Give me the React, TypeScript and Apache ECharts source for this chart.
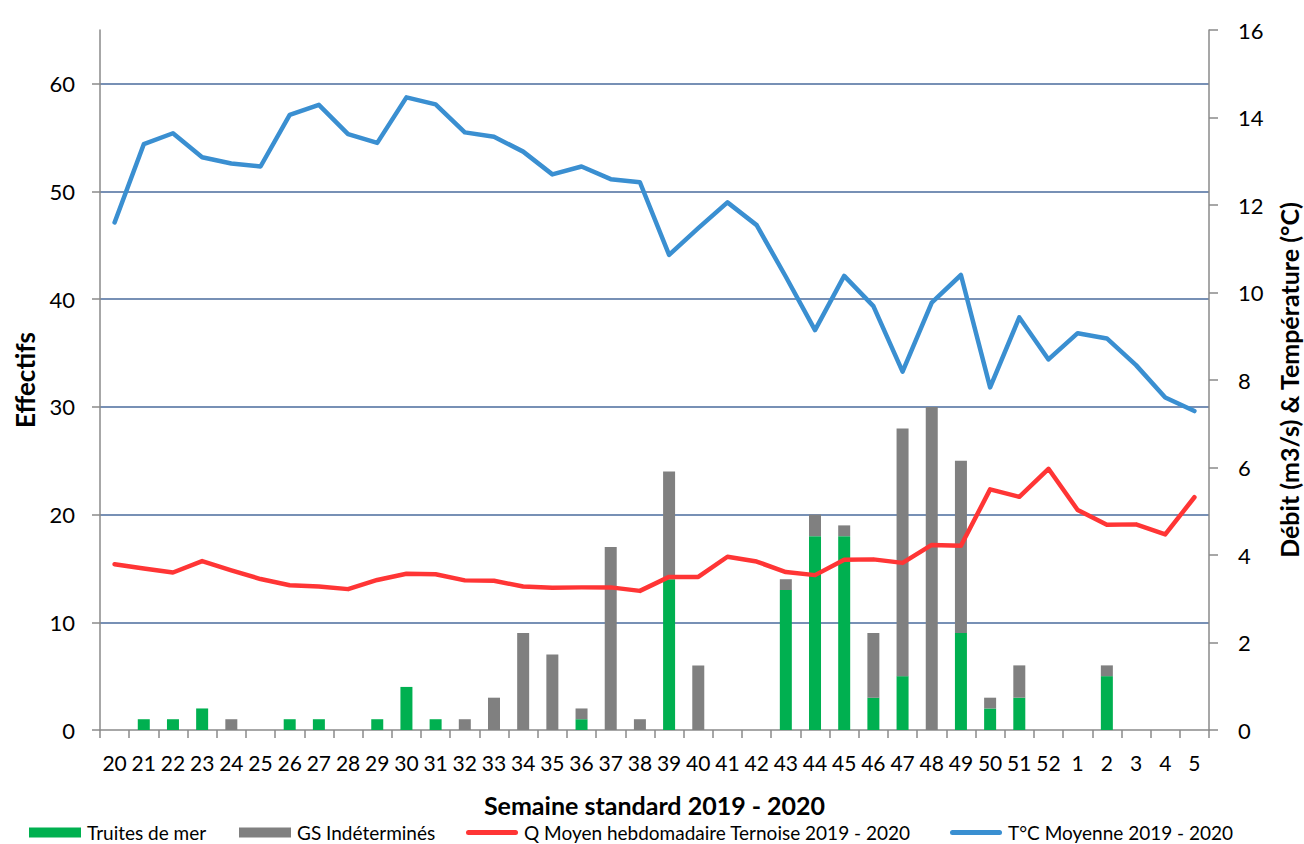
import React, { useEffect, useRef } from "react";
import * as echarts from "echarts";

const categories = [
  "20", "21", "22", "23", "24", "25", "26", "27", "28", "29", "30", "31", "32", "33",
  "34", "35", "36", "37", "38", "39", "40", "41", "42", "43", "44", "45", "46", "47",
  "48", "49", "50", "51", "52", "1", "2", "3", "4", "5",
];

const truitesDeMer = [
  0, 1, 1, 2, 0, 0, 1, 1, 0, 1, 4, 1, 0, 0,
  0, 0, 1, 0, 0, 14, 0, 0, 0, 13, 18, 18, 3, 5,
  0, 9, 2, 3, 0, 0, 5, 0, 0, 0,
];

const gsIndetermines = [
  0, 0, 0, 0, 1, 0, 0, 0, 0, 0, 0, 0, 1, 3,
  9, 7, 1, 17, 1, 10, 6, 0, 0, 1, 2, 1, 6, 23,
  30, 16, 1, 3, 0, 0, 1, 0, 0, 0,
];

const debitTernoise = [
  3.79, 3.69, 3.6, 3.86, 3.65, 3.45, 3.31, 3.28, 3.22, 3.43, 3.57, 3.56, 3.42, 3.41,
  3.28, 3.25, 3.26, 3.26, 3.18, 3.5, 3.5, 3.96, 3.85, 3.61, 3.54, 3.89, 3.9, 3.82,
  4.23, 4.21, 5.5, 5.33, 5.97, 5.03, 4.69, 4.7, 4.47, 5.32,
];

const temperature = [
  11.6, 13.39, 13.64, 13.09, 12.95, 12.88, 14.06, 14.29, 13.62, 13.42, 14.46, 14.3, 13.66, 13.56,
  13.22, 12.7, 12.88, 12.59, 12.52, 10.86, 11.47, 12.06, 11.54, 10.36, 9.14, 10.38, 9.69, 8.19,
  9.77, 10.4, 7.83, 9.43, 8.47, 9.07, 8.95, 8.34, 7.6, 7.29,
];

const leftTicks = [0, 10, 20, 30, 40, 50, 60];

const FONT = "Lato";
const AXIS_GRAY = "#8a8a8a";
const GRID_BLUE = "#4a6b9c";
const LINE_ICON = "path://M2.5,0 h47 a2.5,2.5 0 0 1 0,5 h-47 a2.5,2.5 0 0 1 0,-5 z";

export default function App() {
  const ref = useRef<HTMLDivElement>(null);

  useEffect(() => {
    document.body.style.margin = "0";
    if (!ref.current) return;
    const chart = echarts.init(ref.current, undefined, { renderer: "svg" });

    const legendBase = {
      top: 823,
      itemWidth: 52,
      itemHeight: 10,
      itemGap: 6,
      padding: 0,
      selectedMode: false,
      textStyle: { fontSize: 19, color: "#000", fontFamily: FONT, padding: [0, 0, 0, 1] },
    };

    chart.setOption({
      animation: false,
      textStyle: { fontFamily: FONT },
      grid: { left: 100, right: 95, top: 30, bottom: 114, containLabel: false, outerBoundsMode: "none" },
      legend: [
        { ...legendBase, left: 29, data: [{ name: "Truites de mer", icon: "rect" }] },
        { ...legendBase, left: 239, data: [{ name: "GS Indéterminés", icon: "rect" }] },
        { ...legendBase, left: 466, data: [{ name: "Q Moyen hebdomadaire Ternoise 2019 - 2020", icon: LINE_ICON }] },
        { ...legendBase, left: 950, data: [{ name: "T°C Moyenne 2019 - 2020", icon: LINE_ICON }] },
      ],
      xAxis: {
        type: "category",
        data: categories,
        boundaryGap: true,
        axisLine: { show: true, lineStyle: { color: AXIS_GRAY, width: 1.5 } },
        axisTick: { show: true, length: 8, lineStyle: { color: AXIS_GRAY, width: 1.5 } },
        axisLabel: { interval: 0, fontSize: 21, color: "#000", margin: 22, fontFamily: FONT },
        splitLine: { show: false },
        name: "Semaine standard 2019 - 2020",
        nameLocation: "middle",
        nameGap: 62,
        nameTextStyle: { fontSize: 25, fontWeight: "bold", color: "#000", fontFamily: FONT },
      },
      yAxis: [
        {
          type: "value",
          min: 0,
          max: 65,
          interval: 10,
          position: "left",
          axisLine: { show: true, lineStyle: { color: AXIS_GRAY, width: 1.5 } },
          axisTick: { show: true, length: 8, lineStyle: { color: AXIS_GRAY, width: 1.5 }, customValues: leftTicks },
          axisLabel: { fontSize: 22, color: "#000", margin: 25, fontFamily: FONT, customValues: leftTicks },
          splitLine: { show: true, showMinLine: false, showMaxLine: true, lineStyle: { color: GRID_BLUE, width: 1.5 } },
          name: "Effectifs",
          nameLocation: "middle",
          nameGap: 62,
          nameRotate: 90,
          nameTextStyle: { fontSize: 26, fontWeight: "bold", color: "#000", fontFamily: FONT },
        },
        {
          type: "value",
          min: 0,
          max: 16,
          interval: 2,
          position: "right",
          axisLine: { show: true, lineStyle: { color: AXIS_GRAY, width: 1.5 } },
          axisTick: { show: true, length: 9, lineStyle: { color: AXIS_GRAY, width: 1.5 } },
          axisLabel: { fontSize: 22, color: "#000", margin: 29, fontFamily: FONT },
          splitLine: { show: false },
          name: "Débit (m3/s) & Température (°C)",
          nameLocation: "middle",
          nameGap: 67,
          nameRotate: 90,
          nameTextStyle: { fontSize: 25, fontWeight: "bold", color: "#000", fontFamily: FONT },
        },
      ],
      series: [
        {
          name: "Truites de mer",
          type: "bar",
          stack: "effectifs",
          yAxisIndex: 0,
          barWidth: 12,
          itemStyle: { color: "#00b050" },
          data: truitesDeMer,
        },
        {
          name: "GS Indéterminés",
          type: "bar",
          stack: "effectifs",
          yAxisIndex: 0,
          barWidth: 12,
          itemStyle: { color: "#808080" },
          data: gsIndetermines,
        },
        {
          name: "Q Moyen hebdomadaire Ternoise 2019 - 2020",
          type: "line",
          yAxisIndex: 1,
          symbol: "none",
          lineStyle: { color: "#ff3535", width: 4.5, cap: "round", join: "round" },
          itemStyle: { color: "#ff3535" },
          data: debitTernoise,
          z: 3,
        },
        {
          name: "T°C Moyenne 2019 - 2020",
          type: "line",
          yAxisIndex: 1,
          symbol: "none",
          lineStyle: { color: "#3a8fd1", width: 4.5, cap: "round", join: "round" },
          itemStyle: { color: "#3a8fd1" },
          data: temperature,
          z: 3,
        },
      ],
    });

    return () => chart.dispose();
  }, []);

  return <div ref={ref} style={{ width: 1304, height: 844 }} />;
}
